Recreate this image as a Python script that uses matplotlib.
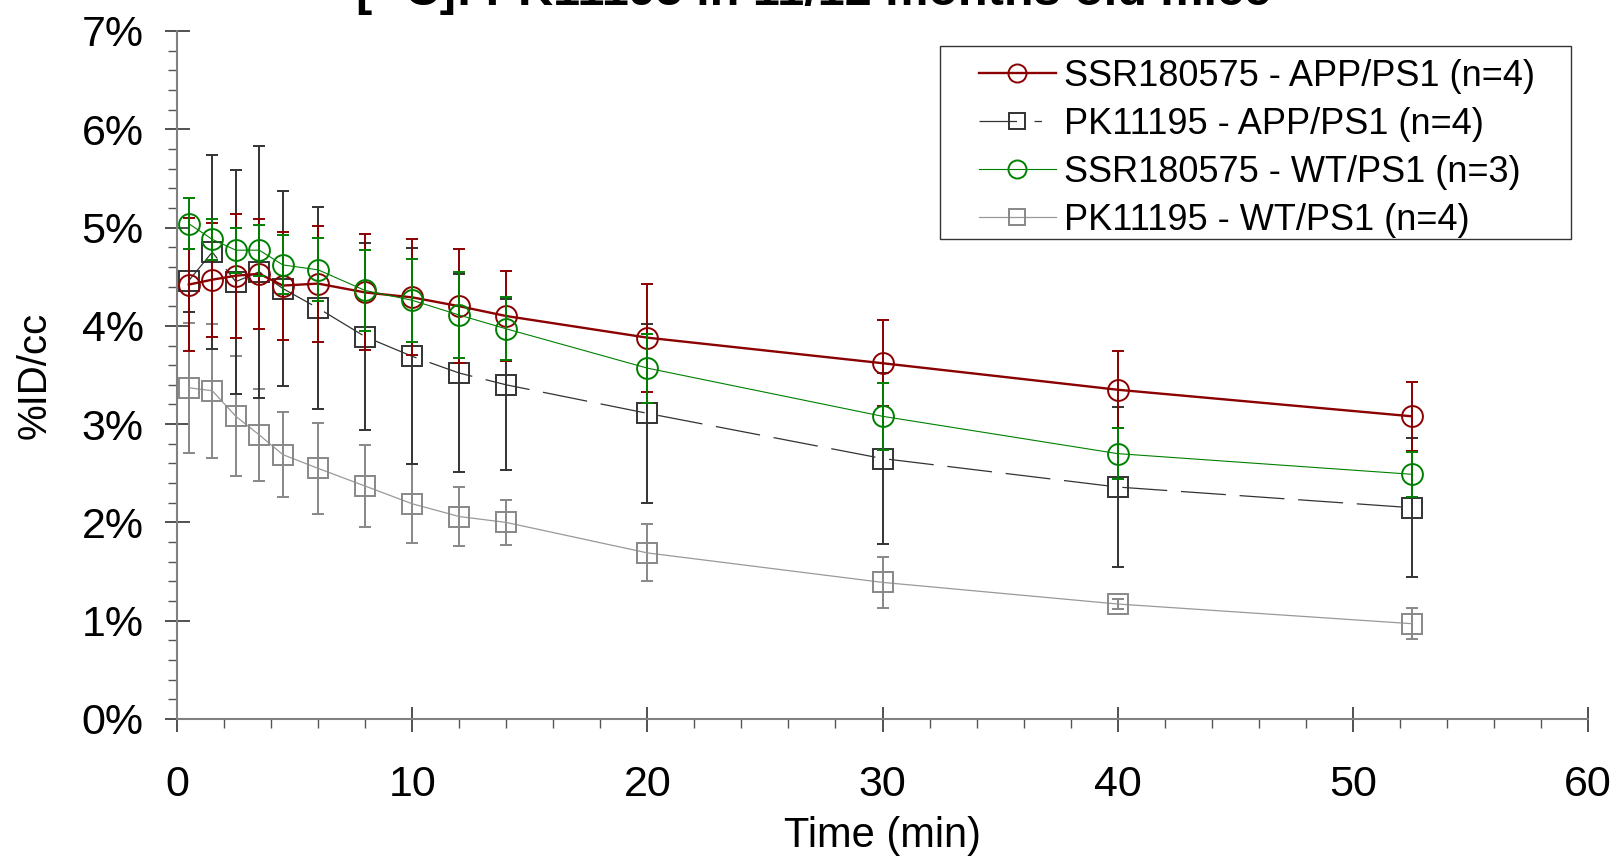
import matplotlib
matplotlib.use("Agg")
import matplotlib.pyplot as plt
from matplotlib.lines import Line2D
from matplotlib.patches import Rectangle
from matplotlib.ticker import MultipleLocator, FuncFormatter

plt.rcParams['font.family'] = ['Liberation Sans', 'DejaVu Sans']

# time points (min)
time = [0.5, 1.5, 2.5, 3.5, 4.5, 6, 8, 10, 12, 14, 20, 30, 40, 52.5]

# %ID/cc, mean and SD for each group
ssr_app = [4.42, 4.47, 4.51, 4.53, 4.41, 4.43, 4.34, 4.29, 4.20, 4.10, 3.88, 3.62, 3.35, 3.08]
ssr_app_sd = [0.68, 0.58, 0.63, 0.56, 0.55, 0.59, 0.59, 0.59, 0.58, 0.46, 0.55, 0.44, 0.39, 0.35]

pk_app = [4.46, 4.75, 4.45, 4.55, 4.38, 4.18, 3.89, 3.69, 3.52, 3.40, 3.11, 2.65, 2.36, 2.15]
pk_app_sd = [0.32, 0.99, 1.14, 1.28, 0.99, 1.03, 0.95, 1.10, 1.01, 0.87, 0.91, 0.87, 0.81, 0.71]

ssr_wt = [5.04, 4.88, 4.77, 4.77, 4.62, 4.57, 4.36, 4.26, 4.11, 3.97, 3.57, 3.08, 2.70, 2.49]
ssr_wt_sd = [0.26, 0.21, 0.23, 0.26, 0.30, 0.32, 0.41, 0.42, 0.44, 0.32, 0.35, 0.34, 0.26, 0.23]

pk_wt = [3.37, 3.34, 3.08, 2.89, 2.69, 2.55, 2.37, 2.19, 2.06, 2.00, 1.69, 1.39, 1.17, 0.97]
pk_wt_sd = [0.66, 0.68, 0.61, 0.47, 0.43, 0.46, 0.42, 0.40, 0.30, 0.23, 0.29, 0.26, 0.05, 0.16]

labels = ['SSR180575 - APP/PS1 (n=4)', 'PK11195 - APP/PS1 (n=4)',
          'SSR180575 - WT/PS1 (n=3)', 'PK11195 - WT/PS1 (n=4)']

fig = plt.figure(figsize=(16.17, 8.58), dpi=100)
ax = fig.add_axes([177/1617, 1-719/858, (1588-177)/1617, (719-31)/858])

err_kw = dict(elinewidth=1.4, capsize=4.5, capthick=1.4)

# gray: PK11195 WT
ax.errorbar(time, pk_wt, yerr=pk_wt_sd, color='#999999', lw=0.9,
            marker='s', ms=14, mfc='none', mec='#888888', mew=1.4,
            ecolor='#888888', zorder=2, **err_kw)
# dark: PK11195 APP/PS1 (dashed)
pk_line = ax.errorbar(time, pk_app, yerr=pk_app_sd, color='#333333', lw=0.9,
                      marker='s', ms=14, mfc='none', mec='#333333', mew=1.4,
                      ecolor='#333333', zorder=3, **err_kw)
pk_line[0].set_dashes([36, 11])
# red: SSR180575 APP/PS1
ax.errorbar(time, ssr_app, yerr=ssr_app_sd, color='#8B0000', lw=1.7,
            marker='o', ms=15, mfc='none', mec='#8B0000', mew=1.4,
            ecolor='#8B0000', zorder=4, **err_kw)
# green: SSR180575 WT
ax.errorbar(time, ssr_wt, yerr=ssr_wt_sd, color='#008000', lw=0.8,
            marker='o', ms=15, mfc='none', mec='#008000', mew=1.4,
            ecolor='#008000', zorder=5, **err_kw)

ax.set_xlim(0, 60)
ax.set_ylim(0, 7)
ax.xaxis.set_major_locator(MultipleLocator(10))
ax.xaxis.set_minor_locator(MultipleLocator(2))
ax.yaxis.set_major_locator(MultipleLocator(1))
ax.yaxis.set_minor_locator(MultipleLocator(0.2))
ax.yaxis.set_major_formatter(FuncFormatter(lambda v, p: '%d%%' % round(v)))

for s in ['top', 'right']:
    ax.spines[s].set_visible(False)
for s in ['left', 'bottom']:
    ax.spines[s].set_color('#808080')
    ax.spines[s].set_linewidth(1.5)

ax.tick_params(which='major', direction='inout', length=18, width=1.1,
               color='#222222', labelsize=31)
ax.tick_params(which='minor', direction='out', length=6.5, width=1.0,
               color='#555555')
ax.tick_params(axis='x', which='major', pad=24)
ax.tick_params(axis='y', which='major', pad=15)

ax.set_xlabel('Time (min)', fontsize=30, labelpad=8)
ax.set_ylabel('%ID/cc', fontsize=29, labelpad=20)

# legend handles: line + marker only, no error bars
handles = [
    Line2D([], [], color='#8B0000', lw=1.7, marker='o', ms=13, mfc='none', mec='#8B0000', mew=1.4),
    Line2D([], [], color='#333333', lw=0.9, marker='s', ms=12, mfc='none', mec='#333333', mew=1.4,
           dashes=[30, 14, 6, 40]),
    Line2D([], [], color='#008000', lw=0.8, marker='o', ms=13, mfc='none', mec='#008000', mew=1.4),
    Line2D([], [], color='#999999', lw=0.9, marker='s', ms=12, mfc='none', mec='#888888', mew=1.4),
]
leg = ax.legend(handles, labels, loc='upper left',
                bbox_to_anchor=(966/1617, 1-46/858),
                bbox_transform=fig.transFigure, fontsize=26,
                frameon=False, borderaxespad=0,
                handlelength=2.15, handletextpad=0.2, labelspacing=0.36,
                borderpad=0.35)
leg.set_zorder(10)
# legend frame drawn separately to match the wider box
ax.add_patch(Rectangle((940/1617, 1-239/858), (1571-940)/1617, (239-46)/858,
                       transform=fig.transFigure, fill=True, facecolor='white',
                       edgecolor='#333333', lw=1.0, zorder=8, clip_on=False))

fig.text(0.503, 1-5/858, '[¹¹C]: PK11195 in 11/12 months old mice',
         fontsize=35, fontweight='bold', ha='center', va='baseline')

fig.savefig('out.png', dpi=100)
